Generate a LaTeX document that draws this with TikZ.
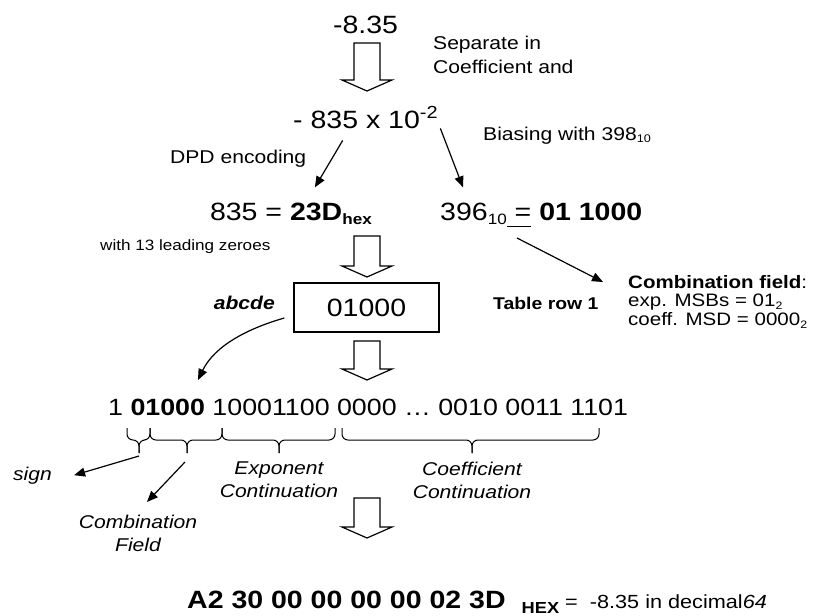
\documentclass[tikz,border=0pt]{standalone}
\usepackage{fontspec}
\setmainfont[FakeStretch=1.14]{Liberation Sans}
\usepackage{graphicx}
\usepackage{tikz}
\usetikzlibrary{arrows.meta,calc}
\newcommand{\dsub}[1]{\raisebox{-0.16em}{\scalebox{0.6}{#1}}}
\tikzset{
  bignum/.style={inner sep=0pt,font=\fontsize{25}{30}\selectfont},
  note/.style={inner sep=0pt,font=\fontsize{18.5}{24}\selectfont},
  smallnote/.style={inner sep=0pt,font=\fontsize{15}{18}\selectfont},
  fieldnote/.style={inner sep=0pt,align=center,font=\fontsize{18.5}{23}\selectfont\itshape},
  regbox/.style={rectangle,draw,line width=1.3pt,minimum width=145pt,minimum height=49pt,inner sep=0pt,font=\fontsize{25}{30}\selectfont},
  edge/.style={-{Triangle[length=11pt,width=9pt]},line width=1.2pt},
  bracepath/.style={line width=1pt,rounded corners=6pt},
  blockline/.style={line width=1.2pt,fill=white,line join=miter},
  pics/blockdown/.style={code={
    \draw[blockline] (-13,0) -- (13,0) -- (13,#1-11) -- (25,#1-11)
      -- (0,#1) -- (-25,#1-11) -- (-13,#1-11) -- cycle;}}
}
\begin{document}
\begin{tikzpicture}[x=1pt,y=-1pt]
  \useasboundingbox (0,0) rectangle (815,616);
  % value and exponent split
  \node[bignum,anchor=base] (start) at (365.5,33) {-8.35};
  \node[note,anchor=north west,align=left] (sepnote) at (433,35.5) {Separate in\\Coefficient and};
  \pic at (367,43) {blockdown=48};
  \node[bignum,anchor=base west] (expo) at (293,128) {- 835 x 10\textsuperscript{-2}};
  \node[note,anchor=base west] (dpdnote) at (170,163) {DPD encoding};
  \node[note,anchor=base west] (biasnote) at (483,140) {Biasing with 398\dsub{10}};
  \node[bignum,anchor=base east] (coef) at (372,220) {835 = \textbf{23D\dsub{hex}}};
  \node[bignum,anchor=base west] (bval) at (440,220) {396\dsub{10}\underline{\vphantom{g}\ =} \textbf{01 1000}};
  \node[smallnote,anchor=base west] (leadnote) at (100,250) {with 13 leading zeroes};
  \node[inner sep=0pt,anchor=north west,align=left,font=\fontsize{18}{18.5}\selectfont] (combo) at (628,275)
    {\textbf{Combination field}:\\exp. MSBs = 01\dsub{2}\\coeff. MSD = 0000\dsub{2}};
  \draw[edge] ([shift={(-23,12)}]expo.south) -- ([shift={(24,-15)}]coef.north);
  \draw[edge] ([shift={(2,0)}]expo.south east) -- ([shift={(23,-15)}]bval.north west);
  \coordinate (biastail) at ([shift={(77,18)}]bval.base west);
  \draw[edge] (biastail) -- ([shift={(-25,7)}]combo.north west);
  % combination field box
  \pic at (367,236) {blockdown=41};
  \node[regbox] (reg) at (366.5,307.5) {01000};
  \node[inner sep=0pt,anchor=base east,font=\fontsize{18.5}{24}\selectfont\bfseries\itshape] (abcde) at (275,309) {abcde};
  \node[inner sep=0pt,anchor=base west,font=\fontsize{17}{20}\selectfont\bfseries] (rownote) at (493,309) {Table row 1};
  \pic at (367,341) {blockdown=39};
  % encoded bits and fields
  \node[inner sep=0pt,anchor=base west,font=\fontsize{23.5}{28}\selectfont] (bits) at (108,415) {1 \textbf{01000} 10001100 0000 … 0010 0011 1101};
  \draw[edge] ([shift={(-9,10.5)}]reg.west) .. controls +(-35,10) and +(17,-35) .. ([shift={(90,-35)}]bits.base west);
  \foreach \l/\m/\r [count=\i] in {127/139/150,150/187/222,222/279/335,342/472/599} {
    \draw[bracepath] (\l,428) -- (\l,440) -- (\m,440) -- (\m,453);
    \draw[bracepath] (\r,428) -- (\r,440) -- (\m,440) -- (\m,453);
    \coordinate (tip\i) at (\m,453);
  }
  \node[fieldnote,anchor=base west] (sign) at (13,480) {sign};
  \node[fieldnote,anchor=north] (combfield) at (138,514.5) {Combination\\Field};
  \node[fieldnote,anchor=north] (expfield) at (279,461.5) {Exponent\\Continuation};
  \node[fieldnote,anchor=north] (coeffield) at (472,461.5) {Coefficient\\Continuation};
  \draw[edge] ([yshift=-3pt]tip1) -- ([xshift=22pt]sign.east);
  \draw[edge] ([shift={(-2,9)}]tip2) -- ([shift={(9,-12.5)}]combfield.north);
  % result
  \pic at (367,498) {blockdown=40};
  \node[inner sep=0pt,anchor=base west] (hexval) at (187,608)
    {\fontsize{25}{30}\selectfont\textbf{A2 30 00 00 00 00 02 3D}\hspace{16pt}\raisebox{-5pt}{\fontsize{16}{16}\selectfont\bfseries HEX}\hspace{6pt}\fontsize{19}{22}\selectfont= \ -8.35 in decimal\textit{64}};
\end{tikzpicture}
\end{document}
